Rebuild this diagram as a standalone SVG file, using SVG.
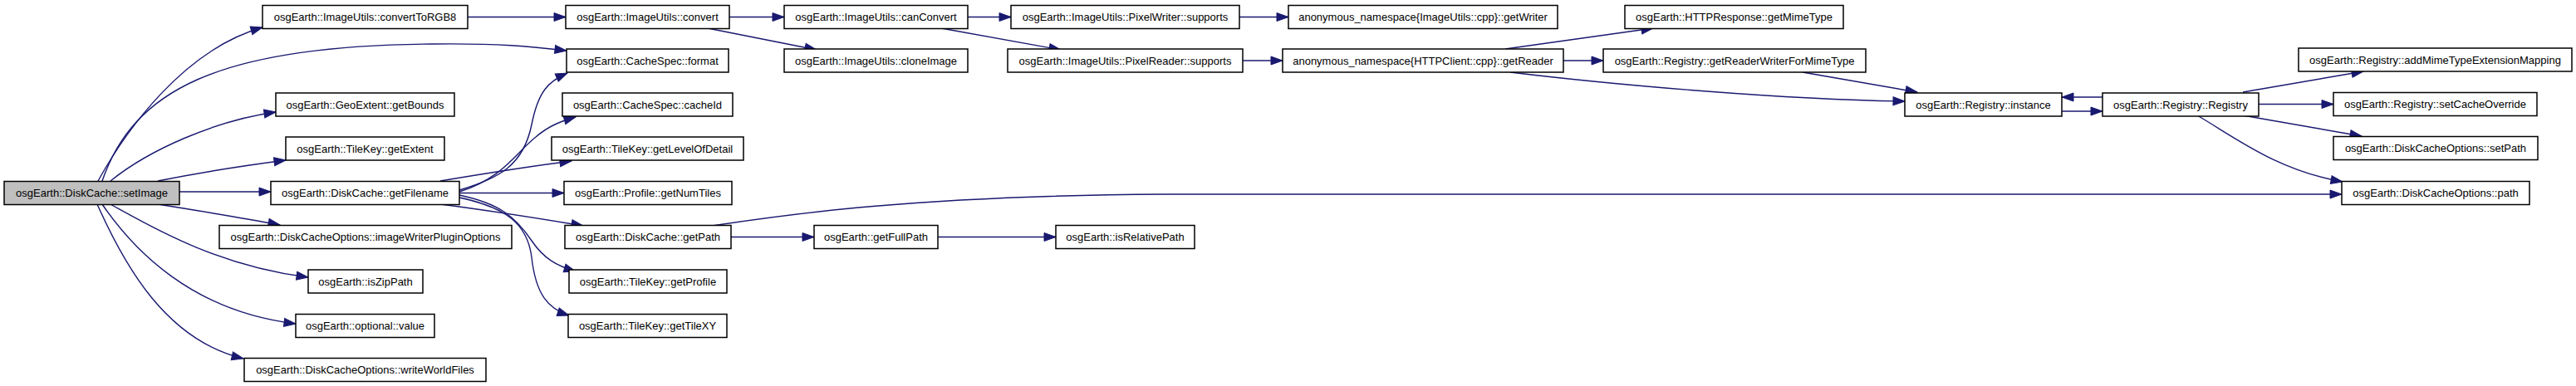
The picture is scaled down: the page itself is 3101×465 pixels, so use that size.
<svg xmlns="http://www.w3.org/2000/svg" width="3101" height="465" viewBox="0 0 3101 465">
<style>
.n rect{fill:#ffffff;stroke:#000000;stroke-width:1.5}
.n.root rect{fill:#bfbfbf}
.n text{font-family:"Liberation Sans",Arial,sans-serif;font-size:13px;fill:#000000;text-anchor:middle}
.e path{fill:none;stroke:#191970;stroke-width:1.4;marker-end:url(#ah)}
</style>
<defs>
<marker id="ah" markerUnits="userSpaceOnUse" markerWidth="15" markerHeight="11" refX="14" refY="5" orient="auto" overflow="visible">
<path d="M0,0 L14,5 L0,10 z" fill="#191970" stroke="#191970" stroke-width="1"/>
</marker>
</defs>
<rect width="3101" height="465" fill="#ffffff"/>
<g id="edges" class="e">
<path d="M118,218 C150,160 220,60 316,33"/>
<path d="M123,218 C160,110 260,55 520,53 C600,52 640,56 682,61"/>
<path d="M133,218 C180,180 260,145 332,135"/>
<path d="M190,218 C240,208 290,200 344,193"/>
<path d="M216,231 L326,231"/>
<path d="M190,246 C240,254 290,262 337,271"/>
<path d="M133,246 C180,272 260,320 371,334"/>
<path d="M123,246 C160,300 230,375 356,390"/>
<path d="M117,246 C150,320 200,410 293,432"/>
<path d="M563,20.5 L681,20.5"/>
<path d="M553,229 C600,215 630,200 640,150 C648,110 660,98 683,88"/>
<path d="M553,231 C605,215 620,185 645,165 C660,152 675,146 693,141"/>
<path d="M530,218 C590,208 640,200 688,194"/>
<path d="M553,232.5 L679,232.5"/>
<path d="M530,246 C600,255 660,265 702,272"/>
<path d="M553,235 C600,245 620,260 640,290 C655,312 670,320 693,327"/>
<path d="M553,238 C610,250 635,270 640,310 C645,355 660,372 685,380"/>
<path d="M878,20.5 L944,20.5"/>
<path d="M852,34 L983,60"/>
<path d="M1165,20.5 L1217,20.5"/>
<path d="M1133,34 L1277,60"/>
<path d="M1492,20.5 L1551,20.5"/>
<path d="M1496,73 L1544,73"/>
<path d="M1812,59 L1990,34"/>
<path d="M1882,73 L1930,73"/>
<path d="M1818,87 C1950,103 2150,120 2293,122"/>
<path d="M2170,87 L2308,111"/>
<path d="M2531,117 L2482,117"/>
<path d="M2482,134 L2531,134"/>
<path d="M2700,111 L2845,86"/>
<path d="M2719,125.5 L2809,125.5"/>
<path d="M2700,139 L2843,164"/>
<path d="M2645,139 C2690,165 2740,205 2820,219"/>
<path d="M857,272 C950,258 1100,236 1400,234 L2819,234"/>
<path d="M880,285.5 L980,285.5"/>
<path d="M1129,285.5 L1271,285.5"/>
</g>
<g id="n_setImage" class="n root"><rect x="5" y="218.5" width="211" height="28"/><text x="110.5" y="237">osgEarth::DiskCache::setImage</text></g>
<g id="n_convertToRGB8" class="n"><rect x="316" y="6.5" width="247" height="28"/><text x="439.5" y="25">osgEarth::ImageUtils::convertToRGB8</text></g>
<g id="n_format" class="n"><rect x="682" y="59" width="195" height="28"/><text x="779.5" y="77.5">osgEarth::CacheSpec::format</text></g>
<g id="n_getBounds" class="n"><rect x="332" y="112" width="215" height="28"/><text x="439.5" y="130.5">osgEarth::GeoExtent::getBounds</text></g>
<g id="n_getExtent" class="n"><rect x="344" y="165" width="191" height="28"/><text x="439.5" y="183.5">osgEarth::TileKey::getExtent</text></g>
<g id="n_getFilename" class="n"><rect x="326" y="218.5" width="227" height="28"/><text x="439.5" y="237">osgEarth::DiskCache::getFilename</text></g>
<g id="n_imageWriter" class="n"><rect x="264" y="271.5" width="352" height="28"/><text x="440" y="290">osgEarth::DiskCacheOptions::imageWriterPluginOptions</text></g>
<g id="n_isZipPath" class="n"><rect x="371" y="325" width="138" height="28"/><text x="440" y="343.5">osgEarth::isZipPath</text></g>
<g id="n_value" class="n"><rect x="356" y="378.5" width="167" height="28"/><text x="439.5" y="397">osgEarth::optional::value</text></g>
<g id="n_writeWorld" class="n"><rect x="294" y="431.5" width="291" height="28"/><text x="439.5" y="450">osgEarth::DiskCacheOptions::writeWorldFiles</text></g>
<g id="n_convert" class="n"><rect x="681" y="6.5" width="197" height="28"/><text x="779.5" y="25">osgEarth::ImageUtils::convert</text></g>
<g id="n_cacheId" class="n"><rect x="677" y="112" width="205" height="28"/><text x="779.5" y="130.5">osgEarth::CacheSpec::cacheId</text></g>
<g id="n_getLOD" class="n"><rect x="664" y="165" width="231" height="28"/><text x="779.5" y="183.5">osgEarth::TileKey::getLevelOfDetail</text></g>
<g id="n_getNumTiles" class="n"><rect x="679" y="218.5" width="202" height="28"/><text x="780" y="237">osgEarth::Profile::getNumTiles</text></g>
<g id="n_getPath" class="n"><rect x="680" y="271.5" width="200" height="28"/><text x="780" y="290">osgEarth::DiskCache::getPath</text></g>
<g id="n_getProfile" class="n"><rect x="685" y="325" width="190" height="28"/><text x="780" y="343.5">osgEarth::TileKey::getProfile</text></g>
<g id="n_getTileXY" class="n"><rect x="684" y="378.5" width="191" height="28"/><text x="779.5" y="397">osgEarth::TileKey::getTileXY</text></g>
<g id="n_canConvert" class="n"><rect x="944" y="6.5" width="221" height="28"/><text x="1054.5" y="25">osgEarth::ImageUtils::canConvert</text></g>
<g id="n_cloneImage" class="n"><rect x="944" y="59" width="221" height="28"/><text x="1054.5" y="77.5">osgEarth::ImageUtils::cloneImage</text></g>
<g id="n_getFullPath" class="n"><rect x="980" y="271.5" width="149" height="28"/><text x="1054.5" y="290">osgEarth::getFullPath</text></g>
<g id="n_pwSupports" class="n"><rect x="1217" y="6.5" width="275" height="28"/><text x="1354.5" y="25">osgEarth::ImageUtils::PixelWriter::supports</text></g>
<g id="n_prSupports" class="n"><rect x="1213" y="59" width="283" height="28"/><text x="1354.5" y="77.5">osgEarth::ImageUtils::PixelReader::supports</text></g>
<g id="n_isRelativePath" class="n"><rect x="1271" y="271.5" width="167" height="28"/><text x="1354.5" y="290">osgEarth::isRelativePath</text></g>
<g id="n_getWriter" class="n"><rect x="1551" y="6.5" width="324" height="28"/><text x="1713" y="25">anonymous_namespace{ImageUtils::cpp}::getWriter</text></g>
<g id="n_getReader" class="n"><rect x="1544" y="59" width="338" height="28"/><text x="1713" y="77.5">anonymous_namespace{HTTPClient::cpp}::getReader</text></g>
<g id="n_getMimeType" class="n"><rect x="1956" y="6.5" width="263" height="28"/><text x="2087.5" y="25">osgEarth::HTTPResponse::getMimeType</text></g>
<g id="n_getRWForMime" class="n"><rect x="1930" y="59" width="316" height="28"/><text x="2088" y="77.5">osgEarth::Registry::getReaderWriterForMimeType</text></g>
<g id="n_instance" class="n"><rect x="2293" y="112" width="189" height="28"/><text x="2387.5" y="130.5">osgEarth::Registry::instance</text></g>
<g id="n_Registry" class="n"><rect x="2531" y="112" width="188" height="28"/><text x="2625" y="130.5">osgEarth::Registry::Registry</text></g>
<g id="n_addMime" class="n"><rect x="2767" y="58" width="329" height="28"/><text x="2931.5" y="76.5">osgEarth::Registry::addMimeTypeExtensionMapping</text></g>
<g id="n_setCacheOverride" class="n"><rect x="2809" y="111.5" width="245" height="28"/><text x="2931.5" y="130">osgEarth::Registry::setCacheOverride</text></g>
<g id="n_setPath" class="n"><rect x="2809" y="164.5" width="246" height="28"/><text x="2932" y="183">osgEarth::DiskCacheOptions::setPath</text></g>
<g id="n_path" class="n"><rect x="2819" y="218.5" width="226" height="28"/><text x="2932" y="237">osgEarth::DiskCacheOptions::path</text></g>
</svg>
